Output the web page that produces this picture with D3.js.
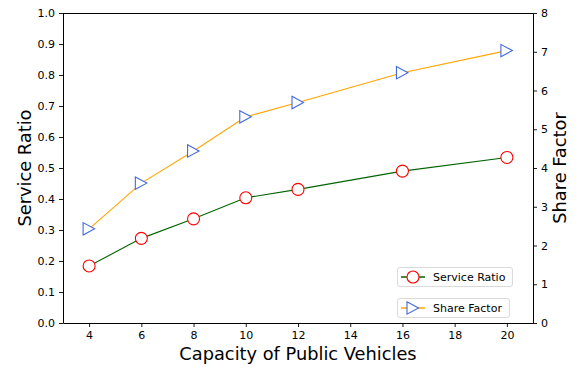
<!DOCTYPE html>
<html><head><meta charset="utf-8">
<script src="https://cdn.jsdelivr.net/npm/d3@7"></script>
<style>body{margin:0;background:#fff}svg{display:block;font-family:"DejaVu Sans",sans-serif}</style>
</head><body><svg id="c" width="576" height="367"></svg>
<script>
const capacity = [4, 6, 8, 10, 12, 16, 20];
const serviceRatio = [0.184, 0.273, 0.336, 0.404, 0.431, 0.490, 0.534];
const shareFactor = [2.43, 3.61, 4.44, 5.32, 5.69, 6.46, 7.03];
const xTicks = [4, 6, 8, 10, 12, 14, 16, 18, 20];
const yLeftTicks = [0, 0.1, 0.2, 0.3, 0.4, 0.5, 0.6, 0.7, 0.8, 0.9, 1.0];
const yRightTicks = [0, 1, 2, 3, 4, 5, 6, 7, 8];

const svg = d3.select("#c");
const L = 63, R = 533, T = 13, B = 323;
const x = d3.scaleLinear().domain([3, 21]).range([L, R]);
const yL = d3.scaleLinear().domain([0, 1]).range([B, T]);
const yR = d3.scaleLinear().domain([0, 8]).range([B, T]);

function styleAxis(g){
  g.selectAll("path").attr("stroke","#000").attr("stroke-width",1);
  g.selectAll("line").attr("stroke","#000").attr("stroke-width",0.9);
  g.selectAll("text").attr("font-size","11px").attr("fill","#000").attr("font-family","DejaVu Sans");
}
svg.append("g").attr("transform",`translate(0,${B})`)
  .call(d3.axisBottom(x).tickValues(xTicks).tickSize(4).tickPadding(4).tickSizeOuter(0)).call(styleAxis);
svg.append("g").attr("transform",`translate(${L},0)`)
  .call(d3.axisLeft(yL).tickValues(yLeftTicks).tickFormat(d3.format(".1f")).tickSize(4).tickPadding(4).tickSizeOuter(0)).call(styleAxis);
svg.append("g").attr("transform",`translate(${R},0)`)
  .call(d3.axisRight(yR).tickValues(yRightTicks).tickFormat(d3.format("d")).tickSize(4).tickPadding(4).tickSizeOuter(0)).call(styleAxis);
svg.append("line").attr("x1",L).attr("x2",R+0.5).attr("y1",T+0.5).attr("y2",T+0.5).attr("stroke","#000");

const lineL = d3.line().x((d,i)=>x(capacity[i])).y(d=>yL(d));
const lineR = d3.line().x((d,i)=>x(capacity[i])).y(d=>yR(d));
svg.append("path").datum(shareFactor).attr("d",lineR).attr("fill","none").attr("stroke","#FFA500").attr("stroke-width",1.1);
svg.append("path").datum(serviceRatio).attr("d",lineL).attr("fill","none").attr("stroke","#006400").attr("stroke-width",1.1);

const tri = "M-6,-6.2 L5.5,0 L-6,6.2 Z";
svg.selectAll(".tri").data(shareFactor).enter().append("path")
  .attr("transform",(d,i)=>`translate(${x(capacity[i])},${yR(d)})`)
  .attr("d",tri).attr("fill","#fff").attr("stroke","#4169E1").attr("stroke-width",1.1);
svg.selectAll(".cir").data(serviceRatio).enter().append("circle")
  .attr("cx",(d,i)=>x(capacity[i])).attr("cy",d=>yL(d)).attr("r",6)
  .attr("fill","#fff").attr("stroke","#FF0000").attr("stroke-width",1.1);

// legends
function legend(y, label, color, marker){
  const g = svg.append("g");
  const w = label === "Service Ratio" ? 115 : 112;
  g.append("rect").attr("x",397.5).attr("y",y+0.5).attr("width",w).attr("height",19).attr("rx",2.5)
    .attr("fill","#fff").attr("stroke","#d0d0d0").attr("stroke-width",0.8);
  g.append("line").attr("x1",401).attr("x2",425).attr("y1",y+10).attr("y2",y+10).attr("stroke",color).attr("stroke-width",1.5);
  if(marker==="c") g.append("circle").attr("cx",413).attr("cy",y+10).attr("r",6).attr("fill","#fff").attr("stroke","#FF0000").attr("stroke-width",1.1);
  else g.append("path").attr("d",tri).attr("transform",`translate(413,${y+10})`).attr("fill","#fff").attr("stroke","#4169E1").attr("stroke-width",1.1);
  g.append("text").attr("x",433).attr("y",y+14).attr("font-size","11px").text(label);
}
legend(267, "Service Ratio", "#006400", "c");
legend(298, "Share Factor", "#FFA500", "t");

svg.append("text").attr("x",(L+R)/2).attr("y",360).attr("text-anchor","middle").attr("font-size","17.8px").text("Capacity of Public Vehicles");
svg.append("text").attr("transform",`translate(31,${(T+B)/2}) rotate(-90)`).attr("text-anchor","middle").attr("font-size","17.8px").text("Service Ratio");
svg.append("text").attr("transform",`translate(566,${(T+B)/2}) rotate(-90)`).attr("text-anchor","middle").attr("font-size","17.8px").text("Share Factor");
</script></body></html>
